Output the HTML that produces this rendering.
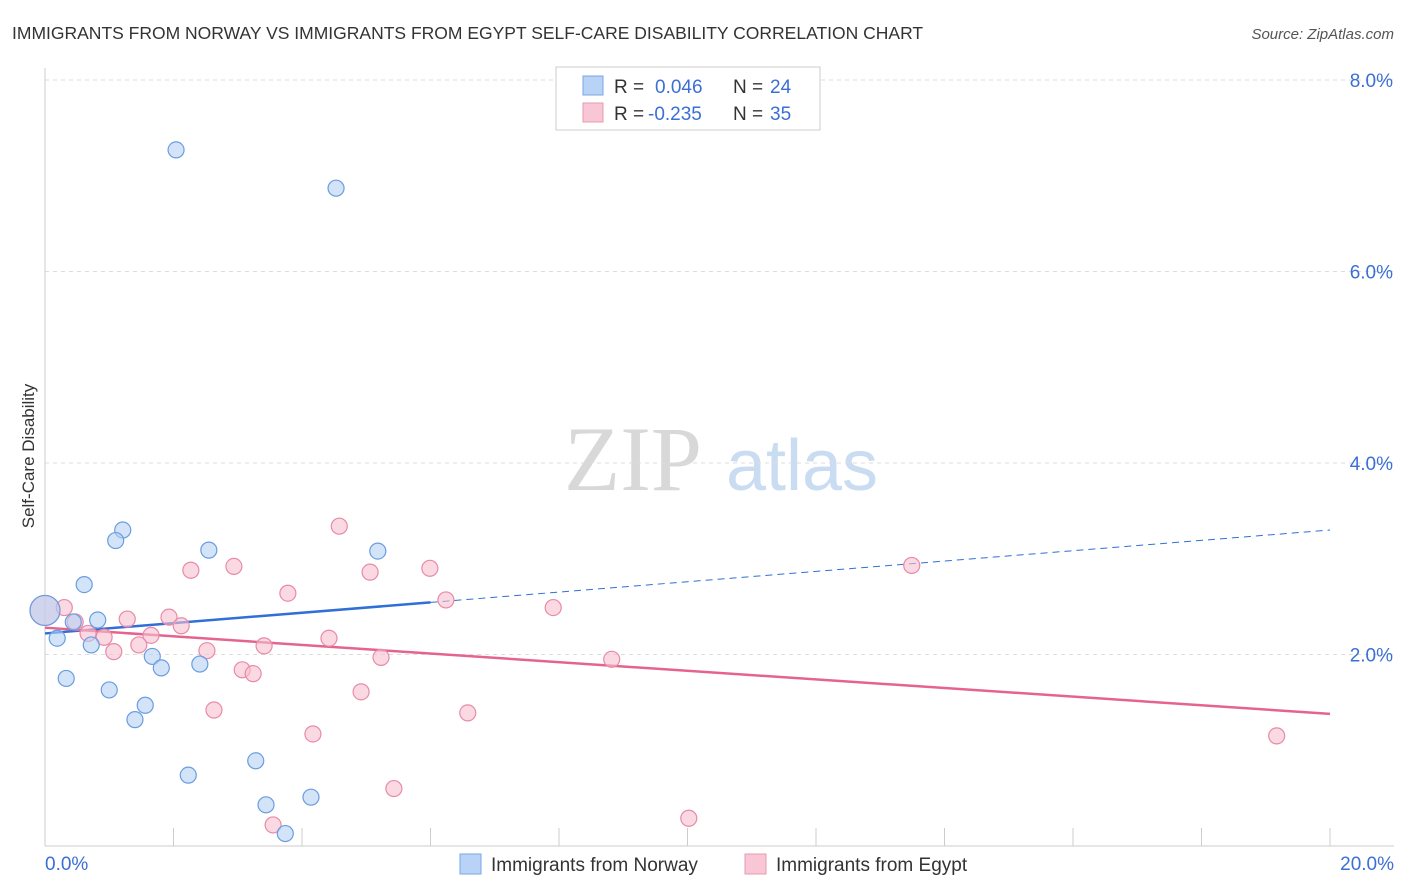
<!DOCTYPE html>
<html><head><meta charset="utf-8"><style>
body{margin:0;background:#fff;font-family:"Liberation Sans",sans-serif;}
svg{display:block}
</style></head><body>
<svg id="chart" width="1406" height="892">
<text x="12" y="39" font-size="17.5" fill="#333">IMMIGRANTS FROM NORWAY VS IMMIGRANTS FROM EGYPT SELF-CARE DISABILITY CORRELATION CHART</text>
<text x="1394" y="39" font-size="15" fill="#555" font-style="italic" text-anchor="end">Source: ZipAtlas.com</text>
<text x="34" y="456" font-size="17" fill="#333" text-anchor="middle" transform="rotate(-90 34 456)">Self-Care Disability</text>
<g><text x="633" y="490" font-size="92" font-family="Liberation Serif,serif" fill="#d8d8d8" text-anchor="middle">ZIP</text><text x="802" y="490" font-size="72" fill="#c9dcf2" text-anchor="middle">atlas</text></g>
<g id="grid"></g><g id="axes"></g><g id="lines"></g><g id="pts"></g>
<g>
<rect x="556" y="67" width="264" height="63" fill="#fff" stroke="#ccc"/>
<rect x="583" y="76" width="20" height="19" fill="#b8d3f5" stroke="#7aa6e3"/>
<rect x="583" y="103" width="20" height="19" fill="#f9c6d6" stroke="#e79ab3"/>
<text x="614" y="93" font-size="19" fill="#333">R = </text><text x="655" y="93" font-size="19" fill="#3b6fd4">0.046</text>
<text x="733" y="93" font-size="19" fill="#333">N = </text><text x="770" y="93" font-size="19" fill="#3b6fd4">24</text>
<text x="614" y="120" font-size="19" fill="#333">R = </text><text x="648" y="120" font-size="19" fill="#3b6fd4">-0.235</text>
<text x="733" y="120" font-size="19" fill="#333">N = </text><text x="770" y="120" font-size="19" fill="#3b6fd4">35</text>
</g>
<g>
<rect x="460" y="854" width="21" height="20" fill="#b8d3f5" stroke="#7aa6e3"/>
<text x="491" y="871" font-size="19" fill="#333">Immigrants from Norway</text>
<rect x="745" y="854" width="21" height="20" fill="#f9c6d6" stroke="#e79ab3"/>
<text x="776" y="871" font-size="19" fill="#333">Immigrants from Egypt</text>
</g>
</svg>
<script>
const norwayX=[2.04,4.53,1.21,1.10,2.55,5.18,0.61,0.0,0.82,0.44,0.19,0.72,1.67,1.81,2.41,0.33,1.00,1.56,1.40,2.23,3.28,4.14,3.44,3.74];
const norwayY=[7.27,6.87,3.30,3.19,3.09,3.08,2.73,2.46,2.36,2.34,2.17,2.10,1.98,1.86,1.90,1.75,1.63,1.47,1.32,0.74,0.89,0.51,0.43,0.13];
const egyptX=[0,0.30,4.58,2.94,2.27,5.06,5.99,13.49,3.78,6.24,7.91,1.28,1.93,2.12,1.65,0.67,0.92,4.42,1.46,3.41,1.07,2.52,5.23,8.82,3.07,3.24,4.92,2.63,6.58,4.17,19.17,5.43,10.02,3.55,0.47];
const egyptY=[2.46,2.49,3.34,2.92,2.88,2.86,2.90,2.93,2.64,2.57,2.49,2.37,2.39,2.30,2.20,2.22,2.18,2.17,2.10,2.09,2.03,2.04,1.97,1.95,1.84,1.80,1.61,1.42,1.39,1.17,1.15,0.60,0.29,0.22,2.34];
const norwayTrend=[2.22,3.30];
const egyptTrend=[2.28,1.38];
const yTicks=[2,4,6,8];
const xTickLabels=["0.0%","20.0%"];
const NS="http://www.w3.org/2000/svg";
const sx=v=>45+v/20*1285, sy=v=>846-v*95.75;
function mk(t,a,p){const e=document.createElementNS(NS,t);for(const k in a)e.setAttribute(k,a[k]);p.appendChild(e);return e;}
const grid=document.getElementById('grid'),axes=document.getElementById('axes'),lines=document.getElementById('lines'),pts=document.getElementById('pts');
yTicks.forEach(t=>{
 const l=mk('line',{x1:45,x2:1394,y1:sy(t),y2:sy(t),stroke:'#ddd','stroke-dasharray':'4 4'},grid);
 
 
 const tx=mk('text',{x:1393,y:sy(t)+7,'font-size':19,fill:'#3b6fd4','text-anchor':'end'},grid);
 tx.textContent=t.toFixed(1)+'%';
 
 
});
mk('line',{x1:45,x2:45,y1:68,y2:846,stroke:'#ccc'},axes);
mk('line',{x1:45,x2:1394,y1:846,y2:846,stroke:'#ccc'},axes);
for(let i=0;i<=10;i++){mk('line',{x1:sx(i*2),x2:sx(i*2),y1:828,y2:846,stroke:'#ccc'},axes);}
const xl0=mk('text',{x:45,y:870,'font-size':19,fill:'#3b6fd4'},axes);xl0.textContent=xTickLabels[0];


const xl1=mk('text',{x:1394,y:870,'font-size':19,fill:'#3b6fd4','text-anchor':'end'},axes);xl1.textContent=xTickLabels[1];


const bAt=x=>norwayTrend[0]+(norwayTrend[1]-norwayTrend[0])*x/20;
const b1=mk('line',{x1:sx(0),y1:sy(bAt(0)),x2:sx(6),y2:sy(bAt(6)),stroke:'#2f6fd6','stroke-width':2.5},lines);


const b2=mk('line',{x1:sx(6),y1:sy(bAt(6)),x2:sx(20),y2:sy(bAt(20)),stroke:'#2f6fd6','stroke-width':1,'stroke-dasharray':'7 5'},lines);


const p1=mk('line',{x1:sx(0),y1:sy(egyptTrend[0]),x2:sx(20),y2:sy(egyptTrend[1]),stroke:'#e5648f','stroke-width':2.5},lines);


function draw(xs,ys,fill,stroke,name){
 xs.forEach((x,i)=>{
  const big=(x===0&&i<=7&&Math.abs(ys[i]-2.46)<0.01);
  const c=mk('circle',{cx:sx(x),cy:sy(ys[i]),r:big?15:8,fill:fill,'fill-opacity':0.6,stroke:stroke,'stroke-width':1.2},pts);
  
  
 });
}
draw(egyptX,egyptY,'#f7bfd0','#e88aa8','egypt-point');
draw(norwayX,norwayY,'#b5d0f3','#6a9de0','norway-point');
</script>
</body></html>
